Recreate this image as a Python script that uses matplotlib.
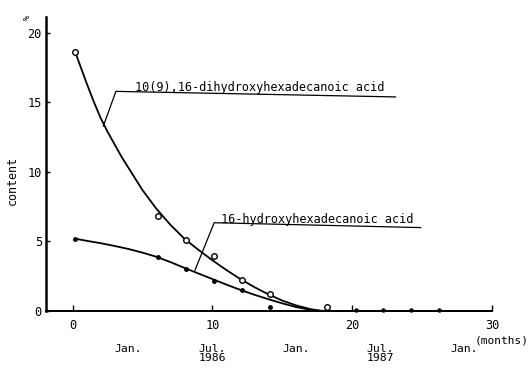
import matplotlib
matplotlib.use("Agg")
import matplotlib.pyplot as plt

# measured points
months = [0.2, 6.1, 8.1, 10.1, 12.1, 14.1, 18.2]
dihydroxy = [18.6, 6.8, 5.1, 3.95, 2.2, 1.25, 0.3]
mono_months = [0.2, 6.1, 8.1, 10.1, 12.1, 14.1]
monohydroxy = [5.2, 3.85, 3.05, 2.15, 1.5, 0.3]
late_months = [20.3, 22.2, 24.2, 26.2]
late_values = [0.1, 0.05, 0.05, 0.05]

# fitted curves as drawn in the picture
di_curve_x = [0.2, 0.6, 1, 1.5, 2, 2.5, 3, 3.5, 4, 5, 6, 7, 8, 9, 10, 11, 12, 13,
              14, 15, 16, 17, 17.5, 18, 30]
di_curve_y = [18.6, 17.5, 16.4, 15.1, 13.9, 12.9, 12.0, 11.1, 10.3, 8.7, 7.35, 6.2,
              5.2, 4.4, 3.65, 2.95, 2.3, 1.72, 1.2, 0.75, 0.4, 0.14, 0.05, 0.0, 0.0]
mono_curve_x = [0.2, 1, 2, 3, 4, 5, 6, 7, 8, 9, 10, 11, 12, 13, 14, 15, 16, 17, 17.8, 30]
mono_curve_y = [5.2, 5.05, 4.88, 4.68, 4.46, 4.2, 3.9, 3.52, 3.1, 2.7, 2.3, 1.9, 1.52,
                1.17, 0.85, 0.55, 0.28, 0.09, 0.0, 0.0]

xticks = [0, 10, 20, 30]
yticks = [0, 5, 10, 15, 20]
date_labels = ["Jan.", "Jul.\n1986", "Jan.", "Jul.\n1987", "Jan."]
date_pos = [4, 10, 16, 22, 28]

font = "DejaVu Sans Mono"
plt.rcParams['font.family'] = [font]

fig = plt.figure(figsize=(5.31, 3.69), dpi=100)
ax = fig.add_axes([46/531, 58/369, 446/531, 294/369])
ax.set_xlim(-1.9, 30)
ax.set_ylim(0, 21.15)

ax.plot(di_curve_x, di_curve_y, color='black', lw=1.3, clip_on=False)
ax.plot(mono_curve_x, mono_curve_y, color='black', lw=1.3, clip_on=False)
ax.plot(months, dihydroxy, 'o', mfc='white', mec='black', mew=1.0, ms=4, clip_on=False)
ax.plot(mono_months, monohydroxy, 'o', color='black', ms=2.5, clip_on=False)
ax.plot(late_months, late_values, 'o', color='black', ms=2.2, clip_on=False)

# leader lines and labels
ax.plot([2.2, 3.1, 23.1], [13.3, 15.8, 15.4], color='black', lw=0.9, clip_on=False)
ax.text(4.5, 16.1, "10(9),16-dihydroxyhexadecanoic acid", fontsize=8.6, va='center', ha='left')
ax.plot([8.76, 10.13, 24.9], [2.95, 6.35, 6.0], color='black', lw=0.9, clip_on=False)
ax.text(10.6, 6.6, "16-hydroxyhexadecanoic acid", fontsize=8.6, va='center', ha='left')

for s in ['top', 'right']:
    ax.spines[s].set_visible(False)
ax.spines['left'].set_linewidth(1.8)
ax.spines['bottom'].set_linewidth(1.4)

ax.set_xticks(xticks)
ax.set_yticks(yticks)
ax.tick_params(axis='x', direction='in', length=4, width=1, labelsize=8.6, pad=6)
ax.tick_params(axis='y', direction='in', length=3, width=1, labelsize=8.6, pad=3)

for lab, p in zip(date_labels, date_pos):
    ax.text(p, -2.4, lab, fontsize=8.2, ha='center', va='top', linespacing=0.85)
ax.text(30.7, -1.75, "(months)", fontsize=8.0, ha='center', va='top')

ax.text(-4.3, 9.4, "content", rotation=90, fontsize=8.4, ha='center', va='center')
fig.text(27/531, 1-17/369, "%", rotation=90, fontsize=6, ha='center', va='center')

fig.savefig("out.png", dpi=100)
